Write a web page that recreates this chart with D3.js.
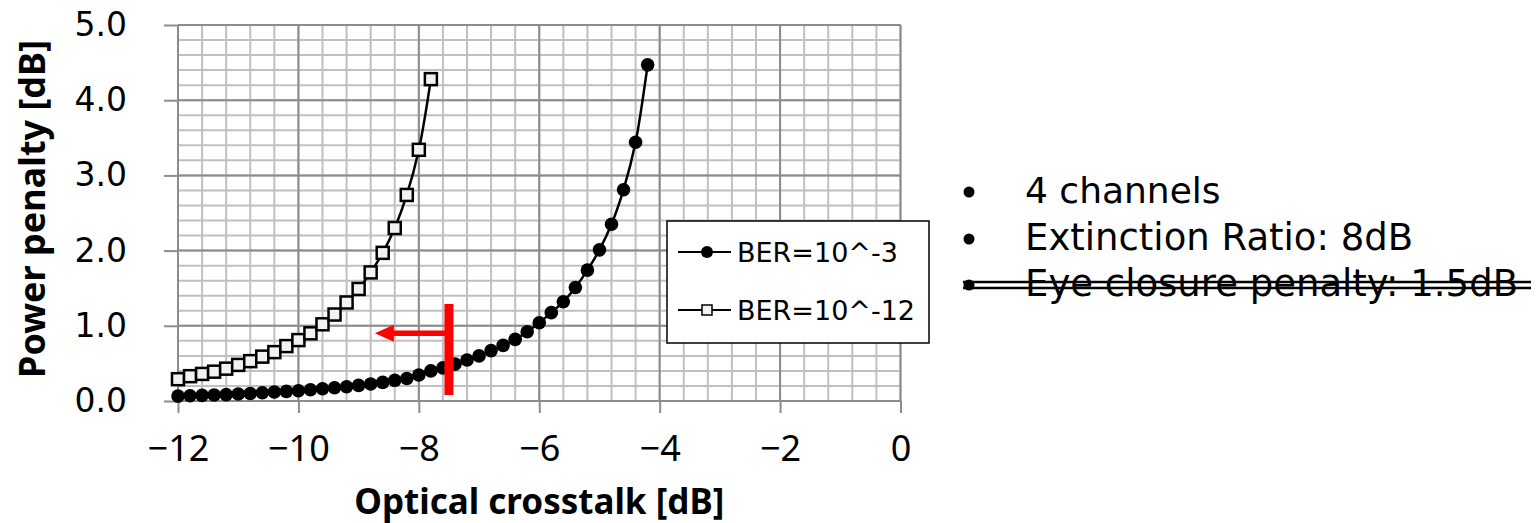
<!DOCTYPE html>
<html>
<head>
<meta charset="utf-8">
<script src="https://cdn.jsdelivr.net/npm/d3@7"></script>
<style>
  body { margin: 0; background: #fff; }
</style>
</head>
<body>
<div class="container"></div>
<script>
// BER = 10^-3 (filled circles)
const ber3X = [-12, -11.8, -11.6, -11.4, -11.2, -11, -10.8, -10.6, -10.4, -10.2,
    -10, -9.8, -9.6, -9.4, -9.2, -9, -8.8, -8.6, -8.4, -8.2,
    -8, -7.8, -7.6, -7.4, -7.2, -7, -6.8, -6.6, -6.4, -6.2,
    -6, -5.8, -5.6, -5.4, -5.2, -5, -4.8, -4.6, -4.4, -4.2]
const ber3Y = [0.065, 0.07, 0.075, 0.08, 0.085, 0.093, 0.10, 0.11, 0.12, 0.128,
    0.137, 0.15, 0.163, 0.177, 0.19, 0.208, 0.226, 0.248, 0.275, 0.30,
    0.345, 0.40, 0.44, 0.49, 0.545, 0.60, 0.67, 0.74, 0.82, 0.92,
    1.04, 1.175, 1.32, 1.51, 1.74, 2.01, 2.35, 2.81, 3.44, 4.47]

// BER = 10^-12 (open squares)
const ber12X = [-12, -11.8, -11.6, -11.4, -11.2, -11, -10.8, -10.6, -10.4, -10.2,
    -10, -9.8, -9.6, -9.4, -9.2, -9, -8.8, -8.6, -8.4, -8.2, -8, -7.8]
const ber12Y = [0.29, 0.33, 0.36, 0.39, 0.43, 0.48, 0.53, 0.59, 0.65, 0.73,
    0.81, 0.90, 1.02, 1.15, 1.31, 1.49, 1.71, 1.97, 2.30, 2.74, 3.34, 4.28]

const seriesNames = ["BER=10^-3", "BER=10^-12"]
const xTicks = [-12, -10, -8, -6, -4, -2, 0]
const yTicks = [0, 1, 2, 3, 4, 5]
const notes = ["4 channels", "Extinction Ratio: 8dB", "Eye closure penalty: 1.5dB"]

// red marker: vertical bar at x, spanning y range, arrow pointing left
const limitX = -7.5
const limitY = [0.08, 1.29]
const arrowTo = -8.73
const arrowY = 0.9

const width = 1537
const height = 523
const margin = { top: 25, bottom: 122, left: 178, right: 636.5 }

let svg = d3.select(".container")
    .append("svg")
    .attr("width", width)
    .attr("height", height)
    .attr("viewBox", [0, 0, width, height])

let x = d3.scaleLinear()
    .domain([-12, 0])
    .range([margin.left, width - margin.right])

let y = d3.scaleLinear()
    .domain([0, 5])
    .range([height - margin.bottom, margin.top])

// minor grid
let grid = svg.append("g")
grid.selectAll(".vminor")
    .data(d3.range(-12, 0.001, 0.4))
    .enter().append("line")
    .attr("x1", d => x(d)).attr("x2", d => x(d))
    .attr("y1", y(0)).attr("y2", y(5))
    .attr("stroke", "#c0c0c0").attr("stroke-width", 2)
grid.selectAll(".hminor")
    .data(d3.range(0, 5.001, 0.2))
    .enter().append("line")
    .attr("x1", x(-12)).attr("x2", x(0))
    .attr("y1", d => y(d)).attr("y2", d => y(d))
    .attr("stroke", "#c0c0c0").attr("stroke-width", 2)

// major grid
grid.selectAll(".vmajor")
    .data(xTicks)
    .enter().append("line")
    .attr("x1", d => x(d)).attr("x2", d => x(d))
    .attr("y1", y(0)).attr("y2", y(5))
    .attr("stroke", "#8c8c8c").attr("stroke-width", 2)
grid.selectAll(".hmajor")
    .data(yTicks)
    .enter().append("line")
    .attr("x1", x(-12)).attr("x2", x(0))
    .attr("y1", d => y(d)).attr("y2", d => y(d))
    .attr("stroke", "#8c8c8c").attr("stroke-width", 2)

let xAxis = svg.append("g")
    .attr("transform", `translate(0, ${y(0)})`)
    .call(d3.axisBottom(x).tickValues(xTicks).tickSize(12).tickPadding(22))
let yAxis = svg.append("g")
    .attr("transform", `translate(${x(-12)}, 0)`)
    .call(d3.axisLeft(y).tickValues(yTicks).tickSize(14).tickPadding(37).tickFormat(d3.format(".1f")))

xAxis.select(".domain").remove()
yAxis.select(".domain").remove()
xAxis.selectAll(".tick line").attr("stroke", "#8c8c8c").attr("stroke-width", 2)
yAxis.selectAll(".tick line").attr("stroke", "#8c8c8c").attr("stroke-width", 2)
xAxis.selectAll("text")
    .attr("fill", "#000")
    .style("font-family", "Noto Sans")
    .style("font-size", "36px")
yAxis.selectAll("text")
    .attr("fill", "#000")
    .style("font-family", "DejaVu Sans")
    .style("font-size", "33px")

// axis titles
svg.append("text")
    .attr("x", (x(-12) + x(0)) / 2)
    .attr("y", 514)
    .attr("text-anchor", "middle")
    .style("font-family", "Noto Sans")
    .style("font-weight", "bold")
    .style("font-size", "35px")
    .text("Optical crosstalk [dB]")

svg.append("text")
    .attr("transform", `translate(45, ${(y(0) + y(5)) / 2 - 4}) rotate(-90)`)
    .attr("text-anchor", "middle")
    .style("font-family", "Noto Sans")
    .style("font-weight", "bold")
    .style("font-size", "36px")
    .text("Power penalty [dB]")

// series
let line = d3.line()
    .x(d => x(d[0]))
    .y(d => y(d[1]))
    .curve(d3.curveCatmullRom.alpha(0.5))

let data3 = ber3X.map((v, i) => [v, ber3Y[i]])
let data12 = ber12X.map((v, i) => [v, ber12Y[i]])

svg.append("path")
    .datum(data12)
    .attr("d", line)
    .attr("fill", "none")
    .attr("stroke", "#000")
    .attr("stroke-width", 2.5)

svg.append("path")
    .datum(data3)
    .attr("d", line)
    .attr("fill", "none")
    .attr("stroke", "#000")
    .attr("stroke-width", 2.5)

svg.append("g")
    .selectAll("rect")
    .data(data12)
    .enter()
    .append("rect")
    .attr("x", d => x(d[0]) - 6)
    .attr("y", d => y(d[1]) - 6)
    .attr("width", 12)
    .attr("height", 12)
    .attr("fill", "#f2f2f2")
    .attr("stroke", "#000")
    .attr("stroke-width", 2.5)

svg.append("g")
    .selectAll("circle")
    .data(data3)
    .enter()
    .append("circle")
    .attr("cx", d => x(d[0]))
    .attr("cy", d => y(d[1]))
    .attr("r", 6.8)
    .attr("fill", "#000")

// red annotation
svg.append("line")
    .attr("x1", x(limitX)).attr("x2", x(limitX))
    .attr("y1", y(limitY[0])).attr("y2", y(limitY[1]))
    .attr("stroke", "red")
    .attr("stroke-width", 9)
svg.append("line")
    .attr("x1", x(limitX)).attr("x2", x(arrowTo) + 15)
    .attr("y1", y(arrowY)).attr("y2", y(arrowY))
    .attr("stroke", "red")
    .attr("stroke-width", 5.5)
svg.append("path")
    .attr("d", `M${x(arrowTo)},${y(arrowY)} L${x(arrowTo) + 19},${y(arrowY) - 8.5} L${x(arrowTo) + 19},${y(arrowY) + 8.5} Z`)
    .attr("fill", "red")

// legend
let legend = svg.append("g")
    .attr("id", "legend")

legend.append("rect")
    .attr("x", 667)
    .attr("y", 221)
    .attr("width", 262)
    .attr("height", 122)
    .attr("fill", "#fff")
    .attr("stroke", "#000")
    .attr("stroke-width", 1.5)

let rowY = [252, 310]
seriesNames.forEach((name, i) => {
    let g = legend.append("g")
    g.append("line")
        .attr("x1", 678).attr("x2", 731)
        .attr("y1", rowY[i]).attr("y2", rowY[i])
        .attr("stroke", "#000").attr("stroke-width", 2)
    if (i == 0) {
        g.append("circle")
            .attr("cx", 707).attr("cy", rowY[i]).attr("r", 6)
            .attr("fill", "#000")
    } else {
        g.append("rect")
            .attr("x", 702).attr("y", rowY[i] - 5)
            .attr("width", 10).attr("height", 10)
            .attr("fill", "#f2f2f2").attr("stroke", "#000").attr("stroke-width", 1.5)
    }
    g.append("text")
        .attr("x", 737)
        .attr("y", rowY[i])
        .attr("dy", "0.36em")
        .style("font-family", "DejaVu Sans")
        .style("font-size", "27px")
        .text(name)
})

// bullet notes on the right
let noteY = [203, 250, 296]
notes.forEach((t, i) => {
    svg.append("circle")
        .attr("cx", 969)
        .attr("cy", noteY[i] - 11)
        .attr("r", 5.5)
        .attr("fill", "#000")
    svg.append("text")
        .attr("x", 1025)
        .attr("y", noteY[i])
        .style("font-family", "DejaVu Sans")
        .style("font-size", i == 0 ? "36px" : "37px")
        .text(t)
})

// double strike-through on the last note
svg.append("line")
    .attr("x1", 963).attr("x2", 1531)
    .attr("y1", 282).attr("y2", 282)
    .attr("stroke", "#000").attr("stroke-width", 2.5)
svg.append("line")
    .attr("x1", 963).attr("x2", 1531)
    .attr("y1", 288).attr("y2", 288)
    .attr("stroke", "#000").attr("stroke-width", 2.5)
</script>
</body>
</html>
